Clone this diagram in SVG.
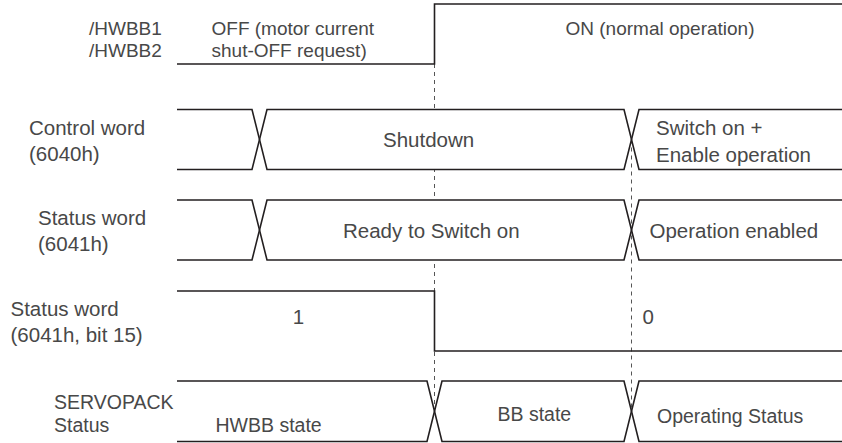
<svg xmlns="http://www.w3.org/2000/svg" width="842" height="443" viewBox="0 0 842 443">
<style>
text{font-family:"Liberation Sans",Arial,sans-serif;fill:#484848;}
.s{font-size:19px;}
.m{font-size:20.5px;}
.sv{font-size:19.5px;}
.w{fill:none;stroke:#231f20;stroke-width:1.6;stroke-linejoin:miter;}
.f{fill:#ffffff;stroke:none;}
.d{fill:none;stroke:#555555;stroke-width:1;stroke-dasharray:4 4;}
</style>
<rect width="842" height="443" fill="#ffffff"/>
<g id="connectors">
<line class="d" x1="434.5" y1="64" x2="434.5" y2="411"/>
<line class="d" x1="631.5" y1="139.5" x2="631.5" y2="411"/>
</g>
<g id="hwbb">
<text class="s" x="89" y="35">/HWBB1</text>
<text class="s" x="89" y="56.5">/HWBB2</text>
<path class="w" d="M177,64 H434.5 V4 H842"/>
<text class="s" x="211.5" y="35">OFF (motor current</text>
<text class="s" x="211.5" y="56.5">shut-OFF request)</text>
<text class="s" x="565.5" y="35">ON (normal operation)</text>
</g>
<g id="control-word">
<text class="m" x="29" y="135">Control word</text>
<text class="m" x="29" y="160.5">(6040h)</text>
<path class="f" d="M177,109.5 H252 L259.5,139.5 L252,169.5 H177 Z"/>
<path class="f" d="M267,109.5 H624 L631.5,139.5 L624,169.5 H267 L259.5,139.5 Z"/>
<path class="f" d="M639,109.5 H842 V169.5 H639 L631.5,139.5 Z"/>
<path class="w" d="M177,109.5 H252 L267,169.5 H624 L639,109.5 H842"/>
<path class="w" d="M177,169.5 H252 L267,109.5 H624 L639,169.5 H842"/>
<text class="m" x="383" y="147">Shutdown</text>
<text class="m" x="656" y="135">Switch on +</text>
<text class="m" x="656" y="161.5">Enable operation</text>
</g>
<g id="status-word">
<text class="m" x="38" y="225">Status word</text>
<text class="m" x="38" y="250.5">(6041h)</text>
<path class="f" d="M177,200 H252 L259.5,230 L252,260 H177 Z"/>
<path class="f" d="M267,200 H624 L631.5,230 L624,260 H267 L259.5,230 Z"/>
<path class="f" d="M639,200 H842 V260 H639 L631.5,230 Z"/>
<path class="w" d="M177,200 H252 L267,260 H624 L639,200 H842"/>
<path class="w" d="M177,260 H252 L267,200 H624 L639,260 H842"/>
<text class="m" x="343" y="238">Ready to Switch on</text>
<text class="m" x="649.5" y="238">Operation enabled</text>
</g>
<g id="status-bit15">
<text class="m" x="10.5" y="316">Status word</text>
<text class="m" x="10.5" y="342">(6041h, bit 15)</text>
<path class="w" d="M177,291 H434.5 V351 H842"/>
<text class="m" x="292.8" y="324">1</text>
<text class="m" x="642.4" y="324">0</text>
</g>
<g id="servopack-status">
<text class="sv" x="54" y="408.5">SERVOPACK</text>
<text class="sv" x="54" y="431.5">Status</text>
<path class="f" d="M177,381 H427 L434.5,411.25 L427,441.5 H177 Z"/>
<path class="f" d="M442,381 H624 L631.5,411.25 L624,441.5 H442 L434.5,411.25 Z"/>
<path class="f" d="M639,381 H842 V441.5 H639 L631.5,411.25 Z"/>
<path class="w" d="M177,381 H427 L442,441.5 H624 L639,381 H842"/>
<path class="w" d="M177,441.5 H427 L442,381 H624 L639,441.5 H842"/>
<text class="sv" x="215.5" y="431.5">HWBB state</text>
<text class="sv" x="497.5" y="420.5">BB state</text>
<text class="sv" x="657" y="423">Operating Status</text>
</g>
</svg>
